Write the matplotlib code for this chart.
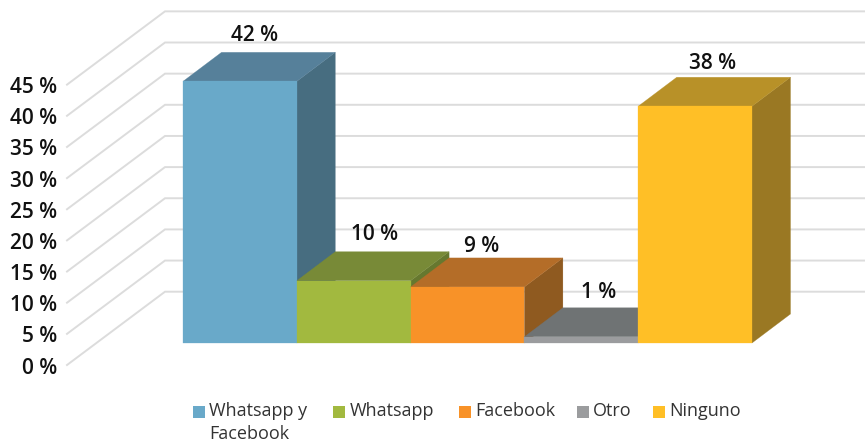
import matplotlib
matplotlib.use("Agg")
import matplotlib.pyplot as plt
from matplotlib.patches import Rectangle

categories = ["Whatsapp y\nFacebook", "Whatsapp", "Facebook", "Otro", "Ninguno"]
values = [42, 10, 9, 1, 38]
value_labels = ["42 %", "10 %", "9 %", "1 %", "38 %"]
axis_ticks = [0, 5, 10, 15, 20, 25, 30, 35, 40, 45]

front_colors = ["#69A9C9", "#A2B93F", "#F89228", "#9B9C9E", "#FFBF26"]
top_colors = ["#56809A", "#788A37", "#B46D28", "#6F7374", "#B89128"]
side_colors = ["#476D80", "#66782F", "#8F5A20", "#5A5E5F", "#9A7823"]

# Scales: one category = 113.8 px, one percent = 6.23 px
XU, YU = 113.8, 6.23
W, H = 865, 443
X0, Y0 = 239.9, 343.0  # pixel of category 0 centre / baseline


def xpx(p):
    return (p - X0) / XU


def ypx(p):
    return (Y0 - p) / YU


fig = plt.figure(figsize=(W / 100, H / 100), dpi=100, facecolor="white")
ax = fig.add_axes([0, 0, 1, 1])
ax.set_xlim(xpx(0), xpx(W))
ax.set_ylim(ypx(H), ypx(0))
ax.axis("off")

LABEL_FONT = ["Open Sans", "DejaVu Sans"]
GRID = "#DCDCDC"

# Walls
wall_front_x, wall_back_x = xpx(67), xpx(165)
front_shift, back_shift = -22 / YU, 51.3 / YU
for t in axis_ticks:
    ax.plot([wall_front_x, wall_back_x, xpx(W)],
            [t + front_shift, t + back_shift, t + back_shift],
            color=GRID, lw=1.4, solid_joinstyle="miter", zorder=1)
    ax.text(xpx(57), t + front_shift - 3.0 / YU, f"{t} %", ha="right", va="center",
            fontsize=15, family=LABEL_FONT, fontweight="semibold", color="#111111",
            zorder=5)

# Bars as boxes
half = 0.5
dx, dy = 38.5 / XU, 29 / YU
for i, v in enumerate(values):
    l, r = i - half, i + half
    z = 2 + i
    ax.fill([r, r + dx, r + dx, r], [0, dy, v + dy, v], color=side_colors[i], lw=0.2, zorder=z)
    ax.fill([l, r, r + dx, l + dx], [v, v, v + dy, v + dy], color=top_colors[i], lw=0.2, zorder=z)
    ax.fill([l, r, r, l], [0, 0, v, v], color=front_colors[i], lw=0.2, zorder=z)

# Data labels, offset from the front top edge of each bar (px)
label_dx = [15, 21, 14, 17, 17]
label_dy = [46, 46, 40, 44, 43]
for i, (v, s) in enumerate(zip(values, value_labels)):
    ax.text(i + label_dx[i] / XU, v + label_dy[i] / YU, s, ha="center", va="center",
            fontsize=15, family=LABEL_FONT, fontweight="semibold", color="#111111", zorder=10)

# Legend
swatch_x = [193, 333, 459, 577, 653]
text_x = [209, 350, 475, 593, 669]
for i, c in enumerate(categories):
    ax.add_patch(Rectangle((xpx(swatch_x[i]), ypx(418)), 12 / XU, 12 / YU,
                           facecolor=front_colors[i], edgecolor="none", zorder=10))
    ax.text(xpx(text_x[i]), ypx(402), c, ha="left", va="top",
            fontsize=13, family=LABEL_FONT, color="#333333", linespacing=1.35, zorder=10)

fig.savefig("out.png", dpi=100, facecolor="white")
